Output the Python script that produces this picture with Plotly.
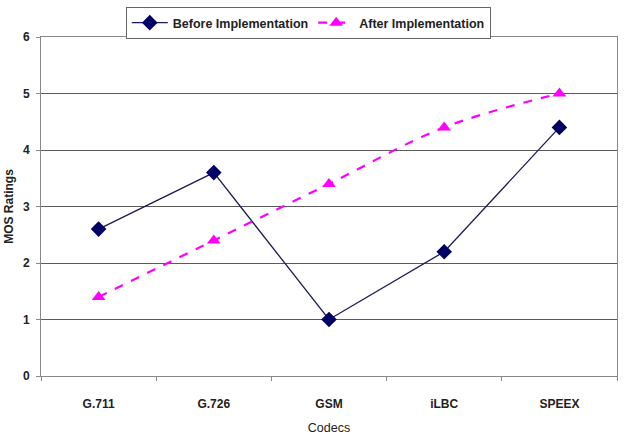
import plotly.graph_objects as go

codecs = ["G.711", "G.726", "GSM", "iLBC", "SPEEX"]
before = [2.6, 3.6, 1.0, 2.2, 4.4]
after = [1.4, 2.4, 3.4, 4.4, 5.0]

fig = go.Figure()
fig.add_trace(go.Scatter(
    x=codecs, y=before, name="Before Implementation", mode="lines+markers",
    line=dict(color="#1a1a55", width=1.3),
    marker=dict(symbol="diamond", size=12, color="#000066"),
))
fig.add_trace(go.Scatter(
    x=codecs, y=after, name="After Implementation", mode="lines+markers",
    line=dict(color="#FF00FF", width=2.2, dash="dash", shape="spline"),
    marker=dict(symbol="triangle-up", size=12, color="#FF00FF"),
))

fig.update_layout(
    width=625, height=438,
    margin=dict(l=41, r=8, t=37, b=62, autoexpand=False),
    paper_bgcolor="white", plot_bgcolor="white",
    font=dict(family="Liberation Sans, Arial", color="#222222", size=12),
    showlegend=True,
    legend=dict(
        orientation="h", x=0.464, xanchor="center",
        yref="container", y=0.984, yanchor="top",
        bordercolor="#666666", borderwidth=1, bgcolor="white",
        font=dict(size=12.5, family="Liberation Sans, Arial", weight="bold"),
        itemwidth=36, tracegroupgap=0,
    ),
    xaxis=dict(
        type="category", tickson="boundaries", ticks="outside", ticklen=4,
        tickcolor="#888888", showline=True, linecolor="#888888", linewidth=1,
        mirror=True, showgrid=False, ticklabelstandoff=17,
        tickfont=dict(size=12, weight="bold"),
        title=dict(text="Codecs", font=dict(size=12.5), standoff=12),
        range=[-0.5, 4.5],
    ),
    yaxis=dict(
        range=[0, 6], dtick=1, ticks="outside", ticklen=4, tickcolor="#888888",
        showline=True, linecolor="#888888", linewidth=1, mirror=True,
        showgrid=True, gridcolor="#5a5a5a", gridwidth=1, zeroline=False,
        ticklabelstandoff=4,
        tickfont=dict(size=12, weight="bold"),
        title=dict(text="MOS Ratings", font=dict(size=12, weight="bold"), standoff=6),
    ),
)

fig.write_html("out.html")
